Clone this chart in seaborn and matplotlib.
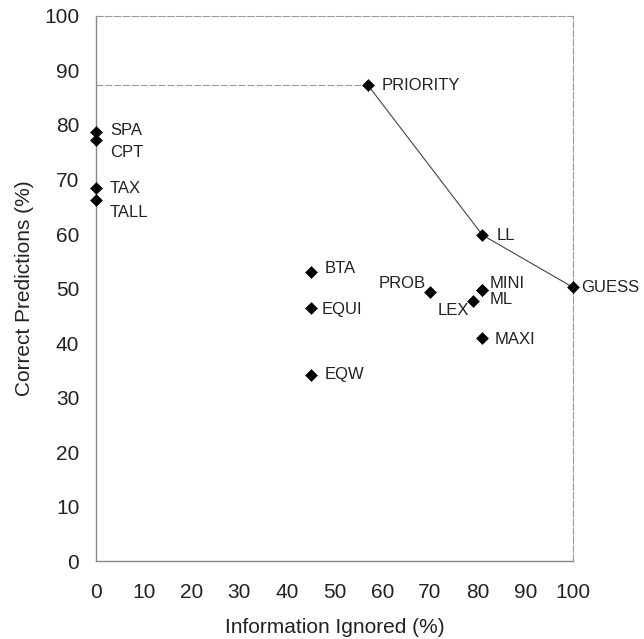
import matplotlib.pyplot as plt
import seaborn as sns
import pandas as pd

# heuristics: information ignored vs correct predictions
names = ["SPA", "CPT", "TAX", "TALL", "PRIORITY", "LL", "GUESS", "BTA", "EQUI",
         "EQW", "PROB", "LEX", "MINI", "ML", "MAXI"]
ignored = [0, 0, 0, 0, 57, 81, 100, 45, 45, 45, 70, 79, 81, 81, 81]
correct = [78.7, 77.3, 68.4, 66.2, 87.3, 59.8, 50.2, 53.1, 46.4, 34.2, 49.4, 47.7, 49.7, 49.7, 40.9]

# frontier line through PRIORITY, LL, GUESS
frontier_x = [57, 81, 100]
frontier_y = [87.3, 59.8, 50.2]

# label offsets in points (dx, dy, ha)
offsets = {
    "SPA": (10, 1, "left"), "CPT": (10, -9, "left"), "TAX": (10, 0, "left"),
    "TALL": (10, -9, "left"), "PRIORITY": (10, 0, "left"), "LL": (10, 0, "left"),
    "GUESS": (6, 0, "left"), "BTA": (10, 2, "left"), "EQUI": (8, -1, "left"),
    "EQW": (10, 0, "left"), "PROB": (-3, 6, "right"), "LEX": (-3, -7, "right"),
    "MINI": (5, 5, "left"), "ML": (5, -7, "left"), "MAXI": (9, -1, "left"),
}

df = pd.DataFrame({"name": names, "ignored": ignored, "correct": correct})

sns.set_style("white")
plt.rcParams["font.family"] = ["Liberation Sans", "DejaVu Sans"]

fig = plt.figure(figsize=(6.44, 6.39), dpi=100)
ax = fig.add_axes([0.149, 0.122, 0.741, 0.853])

ax.plot([0, frontier_x[0]], [frontier_y[0], frontier_y[0]], color="#999999",
        lw=0.8, ls=(0, (6, 2)))
sns.lineplot(x=frontier_x, y=frontier_y, color="#444444", lw=0.8, ax=ax)
sns.scatterplot(data=df, x="ignored", y="correct", marker="D", s=36,
                color="black", edgecolor="black", ax=ax, zorder=5, clip_on=False)

for n, x, y in zip(names, ignored, correct):
    dx, dy, ha = offsets[n]
    ax.annotate(n, (x, y), xytext=(dx, dy), textcoords="offset points",
                ha=ha, va="center", fontsize=12, color="#222222")

ax.set_xlim(0, 100)
ax.set_ylim(0, 100)
ax.set_xticks(range(0, 101, 10))
ax.set_yticks(range(0, 101, 10))
ax.tick_params(axis="both", labelsize=15, length=4, width=0.8, color="#777777",
               direction="out", labelcolor="#222222")
ax.tick_params(axis="y", pad=8)
ax.tick_params(axis="x", pad=12)
ax.set_xlabel("Information Ignored (%)", fontsize=15, color="#222222", labelpad=11)
ax.set_ylabel("Correct Predictions (%)", fontsize=15, color="#222222", labelpad=7)

for side in ["left", "bottom"]:
    ax.spines[side].set_color("#888888")
    ax.spines[side].set_linewidth(1.0)
for side in ["top", "right"]:
    ax.spines[side].set_color("#999999")
    ax.spines[side].set_linewidth(0.8)
    ax.spines[side].set_linestyle((0, (6, 2)))

fig.savefig("out.png", dpi=100)
